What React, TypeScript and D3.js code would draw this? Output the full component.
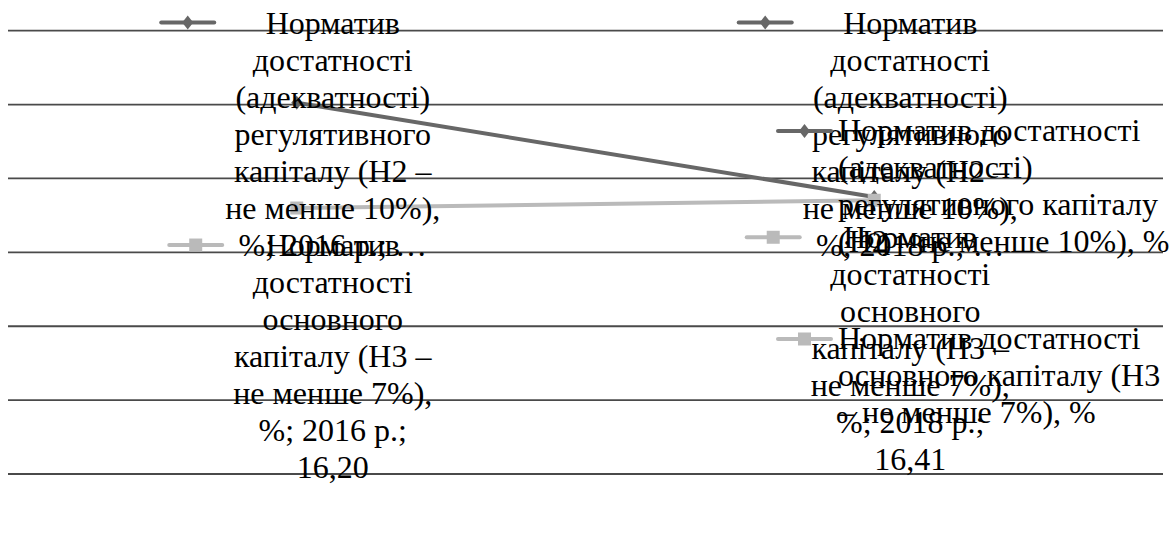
import React, { useEffect, useRef } from "react";
import * as d3 from "d3";

// Categories (years) and the two capital adequacy ratios, %
const years = ["2016 р.", "2018 р."];
const h2Values = [19.05, 16.5];
const h3Values = [16.2, 16.41];

// Series names as they wrap inside the data labels
const h2LabelLines = ["Норматив", "достатності", "(адекватності)", "регулятивного", "капіталу (Н2 –", "не менше 10%),"];
const h3LabelLines = ["Норматив", "достатності", "основного", "капіталу (Н3 –", "не менше 7%),"];

// Series names as they wrap inside the legend
const h2LegendLines = ["Норматив достатності", "(адекватності)", "регулятивного капіталу", "(Н2 – не менше 10%), %"];
const h3LegendLines = ["Норматив достатності", "основного капіталу (Н3", "– не менше 7%), %"];

// Value axis range and gridline step (axis itself is hidden)
const yDomain = [9, 21];
const yTicks = [9, 11, 13, 15, 17, 19, 21];

const W = 1170;
const H = 542;
const FONT = "Liberation Serif, Tinos, Times New Roman, serif";
const FS = 32;
const LH = 37;

const DARK = "#676767";
const LIGHT = "#bababa";

const fmt = (v: number) => v.toFixed(2).replace(".", ",");

export default function App() {
  const ref = useRef<SVGSVGElement>(null);

  useEffect(() => {
    const svg = d3.select(ref.current);
    svg.selectAll("*").remove();

    const x = d3.scalePoint<string>().domain(years).range([8, 1163]).padding(0.5);
    const y = d3.scaleLinear().domain(yDomain).range([474, 30.7]);

    // gridlines
    svg
      .append("g")
      .selectAll("line")
      .data(yTicks)
      .join("line")
      .attr("x1", 8)
      .attr("x2", 1163)
      .attr("y1", (d) => y(d))
      .attr("y2", (d) => y(d))
      .attr("stroke", "#4a4a4a")
      .attr("stroke-width", 1.8);

    const series = [
      { name: "h2", values: h2Values, color: DARK, marker: "diamond" },
      { name: "h3", values: h3Values, color: LIGHT, marker: "square" },
    ];

    const line = d3
      .line<number>()
      .x((_, i) => x(years[i]) as number)
      .y((d) => y(d));

    const drawMarker = (g: any, kind: string, cx: number, cy: number, color: string) => {
      if (kind === "diamond") {
        g.append("path")
          .attr("d", `M${cx},${cy - 7}L${cx + 5.5},${cy}L${cx},${cy + 7}L${cx - 5.5},${cy}Z`)
          .attr("fill", color);
      } else {
        g.append("rect")
          .attr("x", cx - 6.5)
          .attr("y", cy - 6.5)
          .attr("width", 13)
          .attr("height", 13)
          .attr("fill", color);
      }
    };

    const drawKey = (g: any, kind: string, x0: number, cy: number, color: string) => {
      g.append("line")
        .attr("x1", x0)
        .attr("x2", x0 + 53)
        .attr("y1", cy)
        .attr("y2", cy)
        .attr("stroke", color)
        .attr("stroke-width", 4)
        .attr("stroke-linecap", "round");
      drawMarker(g, kind, x0 + 26.5, cy, color);
    };

    // series lines and markers
    const plot = svg.append("g");
    series.forEach((s) => {
      plot
        .append("path")
        .datum(s.values)
        .attr("d", line)
        .attr("fill", "none")
        .attr("stroke", s.color)
        .attr("stroke-width", 4);
    });
    series.forEach((s) => {
      s.values.forEach((v, i) => drawMarker(plot, s.marker, x(years[i]) as number, y(v), s.color));
    });

    // text width measurement
    const ctx = document.createElement("canvas").getContext("2d")!;
    ctx.font = `${FS}px "Liberation Serif", serif`;
    const widest = (lines: string[]) => d3.max(lines, (l) => ctx.measureText(l).width) as number;

    const addText = (g: any, str: string, tx: number, ty: number, anchor: string) =>
      g
        .append("text")
        .attr("x", tx)
        .attr("y", ty)
        .attr("text-anchor", anchor)
        .style("font-family", FONT)
        .style("font-size", `${FS}px`)
        .attr("fill", "#000")
        .text(str);

    const labels = svg.append("g");
    const drawLabel = (lines: string[], cx: number, baseline0: number, kind: string, color: string) => {
      const g = labels.append("g");
      const w = widest(lines);
      drawKey(g, kind, cx - w / 2 - 11 - 53, baseline0 - 11, color);
      lines.forEach((l, k) => addText(g, l, cx, baseline0 + k * LH, "middle"));
    };

    years.forEach((yr, i) => {
      const px = x(yr) as number;
      const cx = px + 36;
      // H2 label: placed above its point, held inside the chart top
      const h2Lines = [...h2LabelLines, `%; ${yr}; …`];
      const h2Base = Math.max(33.5, y(h2Values[i]) - 48 - (h2Lines.length - 1) * LH);
      drawLabel(h2Lines, cx, h2Base, "diamond", DARK);
      // H3 label: placed below its point
      const h3Lines = [...h3LabelLines, `%; ${yr};`, fmt(h3Values[i])];
      drawLabel(h3Lines, cx, y(h3Values[i]) + 48, "square", LIGHT);
    });

    // legend
    const legend = svg.append("g");
    const legendEntries = [
      { lines: h2LegendLines, base: 141, kind: "diamond", color: DARK },
      { lines: h3LegendLines, base: 349, kind: "square", color: LIGHT },
    ];
    legendEntries.forEach((e) => {
      drawKey(legend, e.kind, 778, e.base - 10, e.color);
      e.lines.forEach((l, k) => addText(legend, l, 838, e.base + k * LH, "start"));
    });
  }, []);

  return (
    <svg
      ref={ref}
      width={W}
      height={H}
      style={{ position: "absolute", left: 0, top: 0, background: "#fff" }}
    />
  );
}
